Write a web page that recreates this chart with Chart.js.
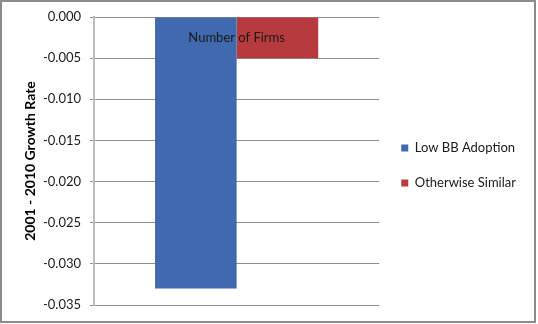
<!DOCTYPE html>
<html>
<head>
<meta charset="utf-8">
<script src="https://cdn.jsdelivr.net/npm/chart.js@4.4.0/dist/chart.umd.min.js"></script>
<style>
  body { margin: 0; background: #fff; }
  #wrap { width: 538px; height: 324px; position: relative; }
</style>
</head>
<body>
<div id="wrap"><canvas id="growthChart"></canvas></div>
<script>
const categories = ['Number of Firms'];
const lowBBAdoption = [-0.033];
const otherwiseSimilar = [-0.005];
const yMin = -0.035;
const yMax = 0;
const yStep = 0.005;

const fontFamily = 'Lato, "Liberation Sans", sans-serif';

// Outer chart frame like the Excel chart object border
const framePlugin = {
    id: 'frame',
    beforeDraw(chart) {
        const ctx = chart.ctx;
        ctx.save();
        ctx.fillStyle = '#ffffff';
        ctx.fillRect(0, 0, chart.width, chart.height);
        ctx.restore();
    },
    afterDraw(chart) {
        const ctx = chart.ctx;
        ctx.save();
        ctx.strokeStyle = '#8c8c8c';
        ctx.lineWidth = 2;
        ctx.strokeRect(1, 1, chart.width - 4, chart.height - 3);
        ctx.restore();
    }
};

document.addEventListener('DOMContentLoaded', () => {
    const ctx = document.getElementById('growthChart').getContext('2d');

    new Chart(ctx, {
        type: 'bar',
        data: {
            labels: categories,
            datasets: [{
                label: 'Low BB Adoption',
                data: lowBBAdoption,
                backgroundColor: '#4069af',
                borderWidth: 0
            },
            {
                label: 'Otherwise Similar',
                data: otherwiseSimilar,
                backgroundColor: '#b73b3e',
                borderWidth: 0
            }]
        },
        options: {
            responsive: true,
            maintainAspectRatio: false,
            animation: false,
            categoryPercentage: 0.572,
            barPercentage: 1.0,
            layout: { padding: { top: 17, bottom: 19, left: 0, right: 12 } },
            scales: {
                x: {
                    position: { y: 0 },
                    grid: { display: false, drawTicks: false },
                    border: { display: false },
                    ticks: {
                        z: 1, // category label sits on top of the bars
                        color: '#1a1a1a',
                        padding: 13,
                        font: { family: fontFamily, size: 13 }
                    }
                },
                y: {
                    min: yMin,
                    max: yMax,
                    afterFit(scale) { scale.width = 94; },
                    grid: { color: '#8f8f8f', lineWidth: 1, tickLength: 4 },
                    border: { color: '#bdbdbd', width: 2 },
                    ticks: {
                        stepSize: yStep,
                        padding: 9,
                        color: '#1a1a1a',
                        font: { family: fontFamily, size: 13 },
                        callback: v => v.toFixed(3)
                    },
                    title: {
                        display: true,
                        text: '2001 - 2010 Growth Rate',
                        color: '#000',
                        padding: { top: 22, bottom: 0 },
                        font: { family: fontFamily, size: 14, weight: 'bold' }
                    }
                }
            },
            plugins: {
                legend: {
                    position: 'right',
                    maxWidth: 220,
                    title: { display: true, text: ' ', padding: 0, font: { size: 9, lineHeight: 1 } },
                    labels: {
                        boxWidth: 7,
                        boxHeight: 7,
                        padding: 22,
                        color: '#1a1a1a',
                        font: { family: fontFamily, size: 13 }
                    }
                },
                tooltip: { enabled: false }
            }
        },
        plugins: [framePlugin]
    });
});
</script>
</body>
</html>
